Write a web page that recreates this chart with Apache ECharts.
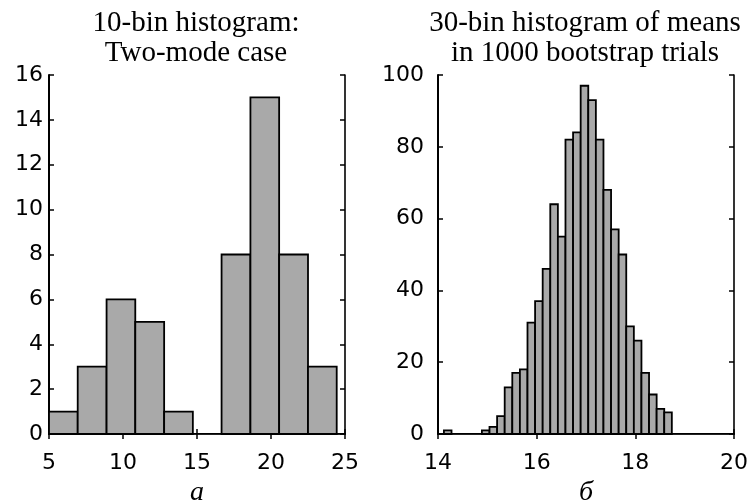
<!DOCTYPE html>
<html>
<head>
<meta charset="utf-8">
<script src="https://cdn.jsdelivr.net/npm/echarts@6/dist/echarts.min.js"></script>
<style>
  html, body { margin: 0; padding: 0; background: #fff; }
  #chart { width: 752px; height: 504px; }
</style>
</head>
<body>
<div id="chart"></div>
<script>
// Panel a: 10-bin histogram of a two-mode sample
const twoModeEdges = [5.00, 6.94, 8.89, 10.83, 12.78, 14.72, 16.66, 18.61, 20.55, 22.50, 24.44];
const twoModeCounts = [1, 3, 6, 5, 1, 0, 8, 15, 8, 3];
const twoModeXTicks = [5, 10, 15, 20, 25];
const twoModeYTicks = [0, 2, 4, 6, 8, 10, 12, 14, 16];

// Panel б: 30-bin histogram of bootstrap means (1000 trials)
const meansRange = [14.12, 18.74];
const meansCounts = [1, 0, 0, 0, 0, 1, 2, 5, 13, 17, 18, 31, 37, 46, 64,
                     55, 82, 84, 97, 93, 82, 68, 57, 50, 30, 26, 17, 11, 7, 6];
const meansXTicks = [14, 16, 18, 20];
const meansYTicks = [0, 20, 40, 60, 80, 100];

const titles = ['10-bin histogram:\nTwo-mode case', '30-bin histogram of means\nin 1000 bootstrap trials'];
const axisNames = ['а', 'б'];

// histogram rows: [left edge, right edge, count]
function binsFromEdges(edges, counts) {
  return counts.map((c, i) => [edges[i], edges[i + 1], c]);
}
function binsFromRange(range, counts) {
  const w = (range[1] - range[0]) / counts.length;
  return counts.map((c, i) => [range[0] + i * w, range[0] + (i + 1) * w, c]);
}

const BAR_FILL = '#a9a9a9';
const LABEL_FONT = { fontFamily: 'DejaVu Sans', fontSize: 22, color: '#000' };

function renderBin(params, api) {
  const c = api.value(2);
  if (!c) return null;
  const p0 = api.coord([api.value(0), 0]);
  const p1 = api.coord([api.value(1), c]);
  return {
    type: 'rect',
    shape: { x: p0[0], y: p1[1], width: p1[0] - p0[0], height: p0[1] - p1[1] },
    style: { fill: BAR_FILL, stroke: '#000', lineWidth: 1.8 }
  };
}

function ticksToRange(ticks) {
  return { min: ticks[0], max: ticks[ticks.length - 1], interval: ticks[1] - ticks[0] };
}

// main (labelled) axis + mirrored axis on the opposite side with inward ticks
function xAxes(gridIndex, ticks, name) {
  const r = ticksToRange(ticks);
  return [
    Object.assign({
      type: 'value', gridIndex, position: 'bottom',
      name, nameLocation: 'middle', nameGap: 45,
      nameTextStyle: { fontFamily: 'Liberation Serif', fontStyle: 'italic', fontSize: 28, color: '#000' },
      axisLine: { lineStyle: { color: '#000', width: 2 } },
      axisTick: { inside: true, length: 5, lineStyle: { color: '#000', width: 1.5 } },
      axisLabel: Object.assign({ margin: 18 }, LABEL_FONT),
      splitLine: { show: false }
    }, r),
    Object.assign({
      type: 'value', gridIndex, position: 'top',
      axisLine: { lineStyle: { color: '#222', width: 1.2 } },
      axisTick: { inside: true, length: 5, lineStyle: { color: '#000', width: 1.5 } },
      axisLabel: { show: false },
      splitLine: { show: false }
    }, r)
  ];
}
function yAxes(gridIndex, ticks, margin) {
  const r = ticksToRange(ticks);
  return [
    Object.assign({
      type: 'value', gridIndex, position: 'left',
      axisLine: { show: true, lineStyle: { color: '#000', width: 2 } },
      axisTick: { show: true, inside: true, length: 5, lineStyle: { color: '#000', width: 1.5 } },
      axisLabel: Object.assign({ margin }, LABEL_FONT),
      splitLine: { show: false }
    }, r),
    Object.assign({
      type: 'value', gridIndex, position: 'right',
      axisLine: { show: true, lineStyle: { color: '#000', width: 1.6 } },
      axisTick: { show: true, inside: true, length: 5, lineStyle: { color: '#000', width: 1.5 } },
      axisLabel: { show: false },
      splitLine: { show: false }
    }, r)
  ];
}

const grids = [
  { left: 49, top: 75, width: 296, height: 359, outerBoundsMode: 'none', containLabel: false },
  { left: 438, top: 75, width: 296, height: 359, outerBoundsMode: 'none', containLabel: false }
];

const chart = echarts.init(document.getElementById('chart'), null, { renderer: 'canvas' });
chart.setOption({
  animation: false,
  backgroundColor: '#fff',
  title: grids.map((g, i) => ({
    text: titles[i],
    left: g.left + g.width / 2 - 6,
    top: 3,
    textAlign: 'center',
    textStyle: { fontFamily: 'Liberation Serif', fontWeight: 'normal', fontSize: 29, lineHeight: 30, color: '#000' }
  })),
  grid: grids,
  xAxis: [...xAxes(0, twoModeXTicks, axisNames[0]), ...xAxes(1, meansXTicks, axisNames[1])],
  yAxis: [...yAxes(0, twoModeYTicks, 6), ...yAxes(1, meansYTicks, 14)],
  series: [
    {
      type: 'custom', xAxisIndex: 0, yAxisIndex: 0,
      renderItem: renderBin, encode: { x: [0, 1], y: 2 },
      data: binsFromEdges(twoModeEdges, twoModeCounts)
    },
    {
      type: 'custom', xAxisIndex: 2, yAxisIndex: 2,
      renderItem: renderBin, encode: { x: [0, 1], y: 2 },
      data: binsFromRange(meansRange, meansCounts)
    }
  ]
});
</script>
</body>
</html>
